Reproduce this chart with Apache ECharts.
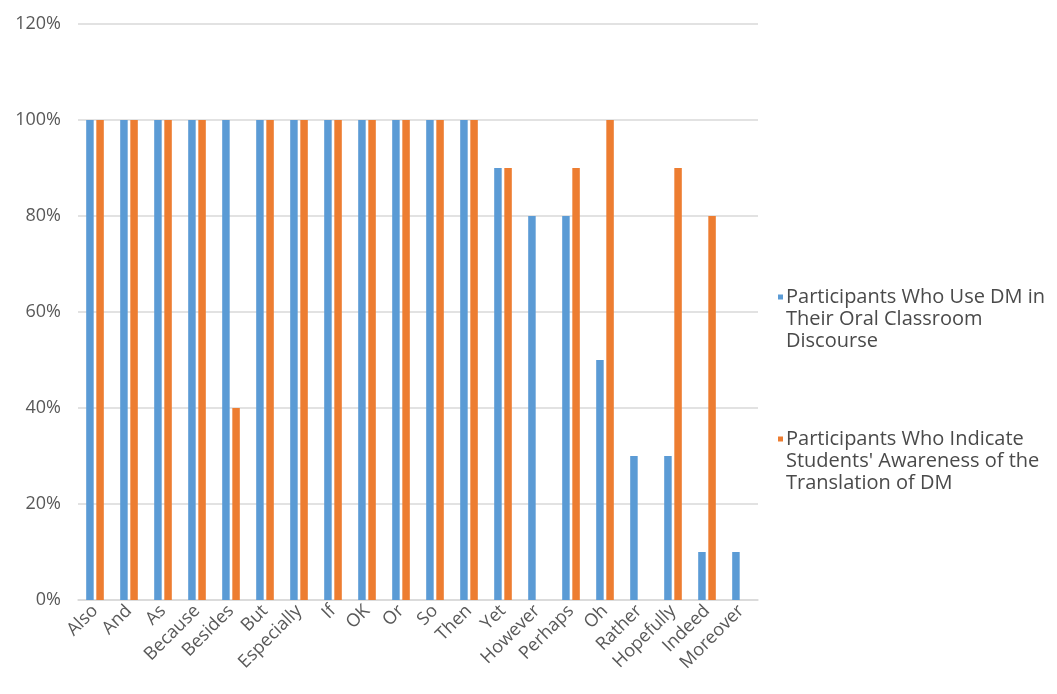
<!DOCTYPE html>
<html>
<head>
<meta charset="utf-8">
<script src="https://cdn.jsdelivr.net/npm/echarts@6/dist/echarts.min.js"></script>
<style>
  html, body { margin: 0; padding: 0; background: #fff; }
  #chart { width: 1057px; height: 694px; }
</style>
</head>
<body>
<div id="chart"></div>
<script>
// Discourse markers on the category axis
const categories = ['Also', 'And', 'As', 'Because', 'Besides', 'But', 'Especially', 'If', 'OK', 'Or',
  'So', 'Then', 'Yet', 'However', 'Perhaps', 'Oh', 'Rather', 'Hopefully', 'Indeed', 'Moreover'];

// Share of participants (%) per discourse marker
const useInDiscourse = [100, 100, 100, 100, 100, 100, 100, 100, 100, 100,
  100, 100, 90, 80, 80, 50, 30, 30, 10, 10];
const awarenessOfTranslation = [100, 100, 100, 100, 40, 100, 100, 100, 100, 100,
  100, 100, 90, 0, 90, 100, 0, 90, 80, 0];

const seriesNames = [
  'Participants Who Use DM in Their Oral Classroom Discourse',
  "Participants Who Indicate Students' Awareness of the Translation of DM"
];
// Wrapped legend lines for each series
const legendLines = [
  ['Participants Who Use DM in', 'Their Oral Classroom', 'Discourse'],
  ['Participants Who Indicate', "Students' Awareness of the", 'Translation of DM']
];

const yTicks = [0, 20, 40, 60, 80, 100, 120];

const BLUE = '#5B9BD5';
const ORANGE = '#ED7D31';
const FONT = '"Open Sans", "DejaVu Sans", sans-serif';

const chart = echarts.init(document.getElementById('chart'), null, { renderer: 'canvas' });

function legendText(name) {
  const idx = seriesNames.indexOf(name);
  const sq = idx === 0 ? '{sqA|}' : '{sqB|}';
  const lines = legendLines[idx];
  return lines.map((l, i) => (i === 0 ? sq : '{sp|}') + '{t|' + l + '}').join('\n');
}

chart.setOption({
  animation: false,
  backgroundColor: '#ffffff',
  textStyle: { fontFamily: FONT },
  grid: { left: 78, right: 299, top: 24, bottom: 94, containLabel: false },
  legend: {
    orient: 'vertical',
    left: 768,
    top: 282,
    itemWidth: 0,
    itemHeight: 0,
    itemGap: 78,
    icon: 'rect',
    selectedMode: false,
    data: seriesNames,
    formatter: legendText,
    textStyle: {
      rich: {
        sqA: { width: 5, height: 5, backgroundColor: BLUE, align: 'left' },
        sqB: { width: 5, height: 5, backgroundColor: ORANGE, align: 'left' },
        sp: { width: 5, height: 5 },
        t: { fontSize: 20, color: '#4a4a4a', fontFamily: FONT, lineHeight: 22, padding: [0, 0, 0, 3] }
      }
    }
  },
  xAxis: {
    type: 'category',
    data: categories,
    axisLine: { show: true, lineStyle: { color: '#d9d9d9', width: 1.5 } },
    axisTick: { show: false },
    axisLabel: {
      rotate: 45,
      interval: 0,
      margin: 8,
      fontSize: 18,
      color: '#595959',
      fontFamily: FONT
    }
  },
  yAxis: {
    type: 'value',
    min: yTicks[0],
    max: yTicks[yTicks.length - 1],
    interval: 20,
    axisLine: { show: false },
    axisTick: { show: false },
    splitLine: { lineStyle: { color: '#d9d9d9', width: 1.5 } },
    axisLabel: {
      margin: 17,
      fontSize: 18,
      color: '#595959',
      fontFamily: FONT,
      formatter: v => v + '%'
    }
  },
  series: [
    {
      name: seriesNames[0],
      type: 'bar',
      data: useInDiscourse,
      barWidth: 7.5,
      barGap: '35%',
      itemStyle: { color: BLUE }
    },
    {
      name: seriesNames[1],
      type: 'bar',
      data: awarenessOfTranslation,
      barWidth: 7.5,
      barGap: '35%',
      itemStyle: { color: ORANGE }
    }
  ]
});
</script>
</body>
</html>
